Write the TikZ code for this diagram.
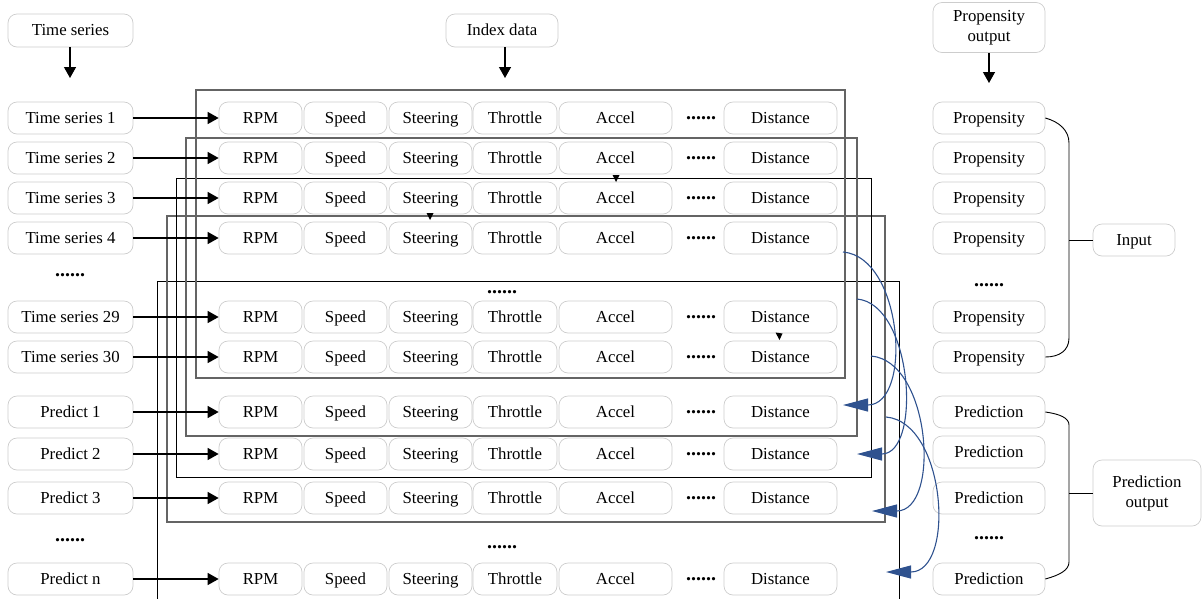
\documentclass[tikz,border=0pt]{standalone}
\usepackage{fontspec}
\setmainfont{Liberation Serif}
\usetikzlibrary{arrows.meta}
\definecolor{arrowblue}{RGB}{47,82,143}
\definecolor{boxgray}{RGB}{205,205,205}
\definecolor{framegray}{RGB}{100,100,100}
\begin{document}
\begin{tikzpicture}[x=1pt,y=-1pt,
  lbl/.style={draw=boxgray, line width=0.7pt, rounded corners=9pt, minimum height=32pt,
    inner sep=0pt, text height=13pt, text depth=3pt, font=\fontsize{16.8}{20}\selectfont, align=center},
  twoline/.style={draw=boxgray, line width=0.7pt, rounded corners=9pt,
    inner sep=0pt, font=\fontsize{16.8}{20}\selectfont, align=center},
  plain/.style={inner sep=0pt, font=\fontsize{16.8}{20}\selectfont},
  dotsty/.style={inner sep=0pt, font=\fontsize{20}{22}\selectfont\bfseries},
  blackarrow/.style={line width=1.3pt, -{Triangle[length=11pt,width=12pt]}},
  bluearrow/.style={draw=arrowblue, line width=1.1pt, -{Triangle[length=25pt,width=13pt,fill=arrowblue]}},
  frameA/.style={draw=framegray, line width=1.3pt},
  frameB/.style={draw=black, line width=0.9pt},
  bracket/.style={draw=black, line width=0.9pt}]
\useasboundingbox (0,0) rectangle (1203,598);

% header nodes
\node[lbl, minimum width=125pt, minimum height=33pt] (hTS) at (70.5,30.5) {Time series};
\node[lbl, minimum width=112pt, minimum height=33pt] (hID) at (502,30.5) {Index data};
\node[twoline, minimum width=112pt, minimum height=50pt] (hPO) at (989,27.5) {Propensity\\output};
\coordinate (tTS) at (70,78);
\coordinate (tID) at (505,78);
\coordinate (tPO) at (989,83);
\draw[blackarrow] (hTS.south -| tTS) -- (tTS);
\draw[blackarrow] (hID.south -| tID) -- (tID);
\draw[blackarrow] (hPO.south -| tPO) -- (tPO);

% frames
\draw[frameB] (157,600) |- (899,281) -- (899,600);
\draw[frameA] (167,216) rectangle (885,522);
\draw[frameB] (176,178) rectangle (871,477);
\draw[frameA] (186,138) rectangle (857,436);
\draw[frameA] (196,90) rectangle (845,378);

% rows
\foreach \n/\y/\lab in {1/118/Time series 1, 2/158/Time series 2, 3/198/Time series 3,
  4/238/Time series 4, 29/317/Time series 29, 30/357/Time series 30,
  p1/412/Predict 1, p2/454/Predict 2, p3/498/Predict 3, pn/579/Predict n}{
  \node[lbl, minimum width=125pt] (L\n) at (70.5,\y) {\lab};
  \node[lbl, minimum width=83pt] (R\n) at (260.5,\y) {RPM};
  \node[lbl, minimum width=83pt] (S\n) at (345.5,\y) {Speed};
  \node[lbl, minimum width=83pt] (St\n) at (430.5,\y) {Steering};
  \node[lbl, minimum width=84pt] (T\n) at (515,\y) {Throttle};
  \node[lbl, minimum width=113pt] (A\n) at (615.5,\y) {Accel};
  \node[dotsty] (Dt\n) at (701,\y) {......};
  \node[lbl, minimum width=113pt] (D\n) at (780.5,\y) {Distance};
  \draw[blackarrow] (L\n) -- (R\n);
}

% dots
\node[dotsty] (ldots1) at (70,275) {......};
\node[dotsty] (ldots2) at (70,540) {......};
\node[dotsty] (mdots1) at (502,292) {......};
\node[dotsty] (mdots2) at (502,547) {......};
\node[dotsty] (pdots1) at (989,285) {......};
\node[dotsty] (pdots2) at (989,538) {......};

% propensity column
\foreach \n/\y in {1/118,2/158,3/198,4/238,29/317,30/357}{
  \node[lbl, minimum width=112pt] (P\n) at (989,\y) {Propensity};
}
\foreach \n/\y in {1/412,2/452,3/498,n/579}{
  \node[lbl, minimum width=112pt] (Q\n) at (989,\y) {Prediction};
}
\node[lbl, minimum width=82pt] (In) at (1134,240) {Input};
\node[twoline, minimum width=108pt, minimum height=66pt] (PO) at (1147,493) {Prediction\\output};

% brackets
\draw[bracket] (P1.east) .. controls (1060,122) and (1069,131) .. (1069,143)
  -- (1069,338) .. controls (1069,350) and (1060,357) .. (P30.east);
\draw[bracket] (In.west) -- (1069,240);
\draw[bracket] (Q1.east) .. controls (1060,414) and (1069,418) .. (1069,425)
  -- (1069,562) .. controls (1069,570) and (1060,575) .. (Qn.east);
\draw[bracket] (PO.west) -- (1069,493);

% small tips
\fill (612.5,175) -- (619.5,175) -- (616,182) -- cycle;
\fill (426.5,213) -- (433.5,213) -- (430,220) -- cycle;
\fill (775.5,332.5) -- (782.5,333.5) -- (779.5,340) -- cycle;

% blue arrows
\coordinate (bs1) at (843,252); \coordinate (bt1) at (843,405);
\coordinate (bs2) at (857,299); \coordinate (bt2) at (857,454);
\coordinate (bs3) at (871,356); \coordinate (bt3) at (872,511);
\coordinate (bs4) at (886,417); \coordinate (bt4) at (886,572);
\draw[bluearrow] (bs1) .. controls (903,257) and (913,405) .. (bt1);
\draw[bluearrow] (bs2) .. controls (913,304) and (922,454) .. (bt2);
\draw[bluearrow] (bs3) .. controls (931,361) and (941,511) .. (bt3);
\draw[bluearrow] (bs4) .. controls (946,422) and (956,572) .. (bt4);
\end{tikzpicture}
\end{document}
